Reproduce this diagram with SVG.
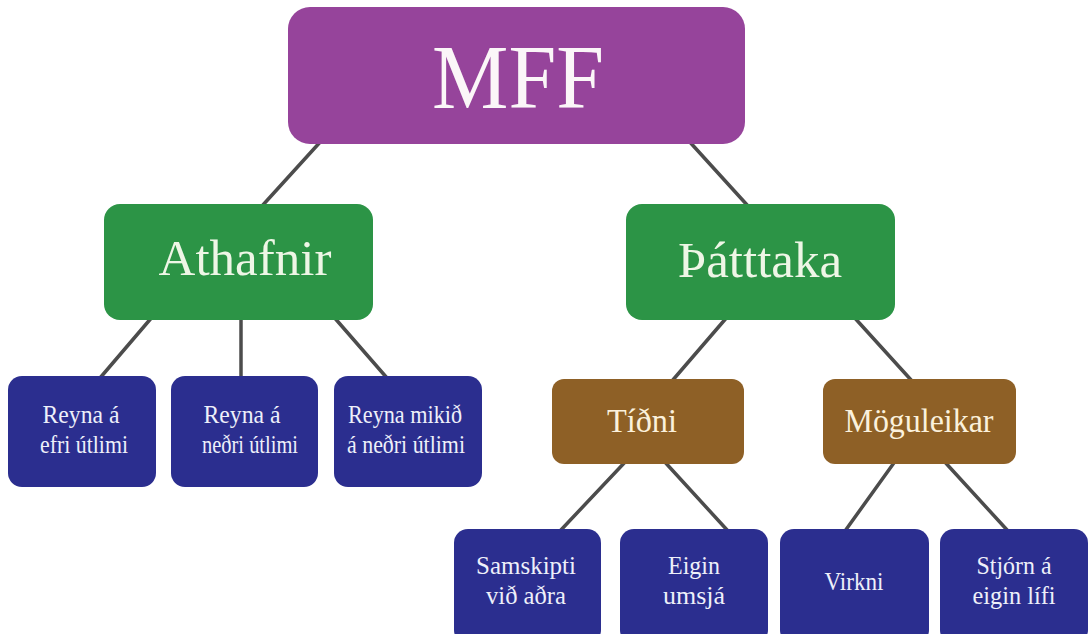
<svg xmlns="http://www.w3.org/2000/svg" width="1090" height="634" viewBox="0 0 1090 634">
<style>
.t{font-family:"Liberation Serif","Times New Roman",serif;text-anchor:middle;}
.w{fill:#fbf6f8;}
.g{fill:#eef6e6;}
.b{fill:#eef0fa;}
.br{fill:#fbf1dc;}
.pu{fill:#96449b;}
.gr{fill:#2c9446;}
.bl{fill:#2b2e8f;}
.bn{fill:#8e6026;}
.c line{stroke:#4c4c4c;stroke-width:3.5;stroke-linecap:round;}
</style>
<rect width="1090" height="634" fill="#ffffff"/>
<g id="connectors" class="c">
<line x1="322" y1="140" x2="262" y2="206"/>
<line x1="688" y1="140" x2="748" y2="206"/>
<line x1="153" y1="316" x2="100" y2="378"/>
<line x1="241" y1="316" x2="241" y2="378"/>
<line x1="333" y1="316" x2="387" y2="378"/>
<line x1="728" y1="316" x2="672" y2="381"/>
<line x1="853" y1="316" x2="912" y2="381"/>
<line x1="627" y1="460" x2="560" y2="531"/>
<line x1="663" y1="460" x2="728" y2="531"/>
<line x1="896" y1="460" x2="845" y2="531"/>
<line x1="943" y1="460" x2="1008" y2="531"/>
</g>
<g id="mff">
<rect class="pu" x="288" y="7" width="457" height="137" rx="22"/>
<text class="t w" x="518" y="108" font-size="92" textLength="172" lengthAdjust="spacingAndGlyphs">MFF</text>
</g>
<g id="athafnir">
<rect class="gr" x="104" y="204" width="269" height="116" rx="16"/>
<text class="t g" x="245" y="275" font-size="51">Athafnir</text>
</g>
<g id="thatttaka">
<rect class="gr" x="626" y="204" width="269" height="116" rx="16"/>
<text class="t g" x="760" y="277" font-size="51">Þátttaka</text>
</g>
<g id="reyna-efri">
<rect class="bl" x="8" y="376" width="148" height="111" rx="14"/>
<text class="t b" x="81" y="423" font-size="25" textLength="77" lengthAdjust="spacingAndGlyphs">Reyna á</text>
<text class="t b" x="84" y="453" font-size="25" textLength="88" lengthAdjust="spacingAndGlyphs">efri útlimi</text>
</g>
<g id="reyna-nedri">
<rect class="bl" x="171" y="376" width="147" height="111" rx="14"/>
<text class="t b" x="242" y="423" font-size="25" textLength="77" lengthAdjust="spacingAndGlyphs">Reyna á</text>
<text class="t b" x="250" y="453" font-size="25" textLength="96" lengthAdjust="spacingAndGlyphs">neðri útlimi</text>
</g>
<g id="reyna-mikid">
<rect class="bl" x="334" y="376" width="148" height="111" rx="14"/>
<text class="t b" x="405" y="423" font-size="25" textLength="114" lengthAdjust="spacingAndGlyphs">Reyna mikið</text>
<text class="t b" x="406" y="453" font-size="25" textLength="118" lengthAdjust="spacingAndGlyphs">á neðri útlimi</text>
</g>
<g id="tidni">
<rect class="bn" x="552" y="379" width="192" height="85" rx="12"/>
<text class="t br" x="642" y="432" font-size="34" textLength="70" lengthAdjust="spacingAndGlyphs">Tíðni</text>
</g>
<g id="moguleikar">
<rect class="bn" x="823" y="379" width="193" height="85" rx="12"/>
<text class="t br" x="919" y="432" font-size="34" textLength="149" lengthAdjust="spacingAndGlyphs">Möguleikar</text>
</g>
<g id="samskipti">
<rect class="bl" x="454" y="529" width="147" height="115" rx="14"/>
<text class="t b" x="526" y="574" font-size="26" textLength="100" lengthAdjust="spacingAndGlyphs">Samskipti</text>
<text class="t b" x="526" y="604" font-size="26" textLength="80" lengthAdjust="spacingAndGlyphs">við aðra</text>
</g>
<g id="eigin-umsja">
<rect class="bl" x="620" y="529" width="148" height="115" rx="14"/>
<text class="t b" x="694" y="574" font-size="26" textLength="52" lengthAdjust="spacingAndGlyphs">Eigin</text>
<text class="t b" x="694" y="604" font-size="26" textLength="62" lengthAdjust="spacingAndGlyphs">umsjá</text>
</g>
<g id="virkni">
<rect class="bl" x="780" y="529" width="149" height="115" rx="14"/>
<text class="t b" x="854" y="590" font-size="26" textLength="59" lengthAdjust="spacingAndGlyphs">Virkni</text>
</g>
<g id="stjorn">
<rect class="bl" x="940" y="529" width="148" height="115" rx="14"/>
<text class="t b" x="1014" y="574" font-size="26" textLength="75" lengthAdjust="spacingAndGlyphs">Stjórn á</text>
<text class="t b" x="1014" y="604" font-size="26" textLength="83" lengthAdjust="spacingAndGlyphs">eigin lífi</text>
</g>
</svg>
